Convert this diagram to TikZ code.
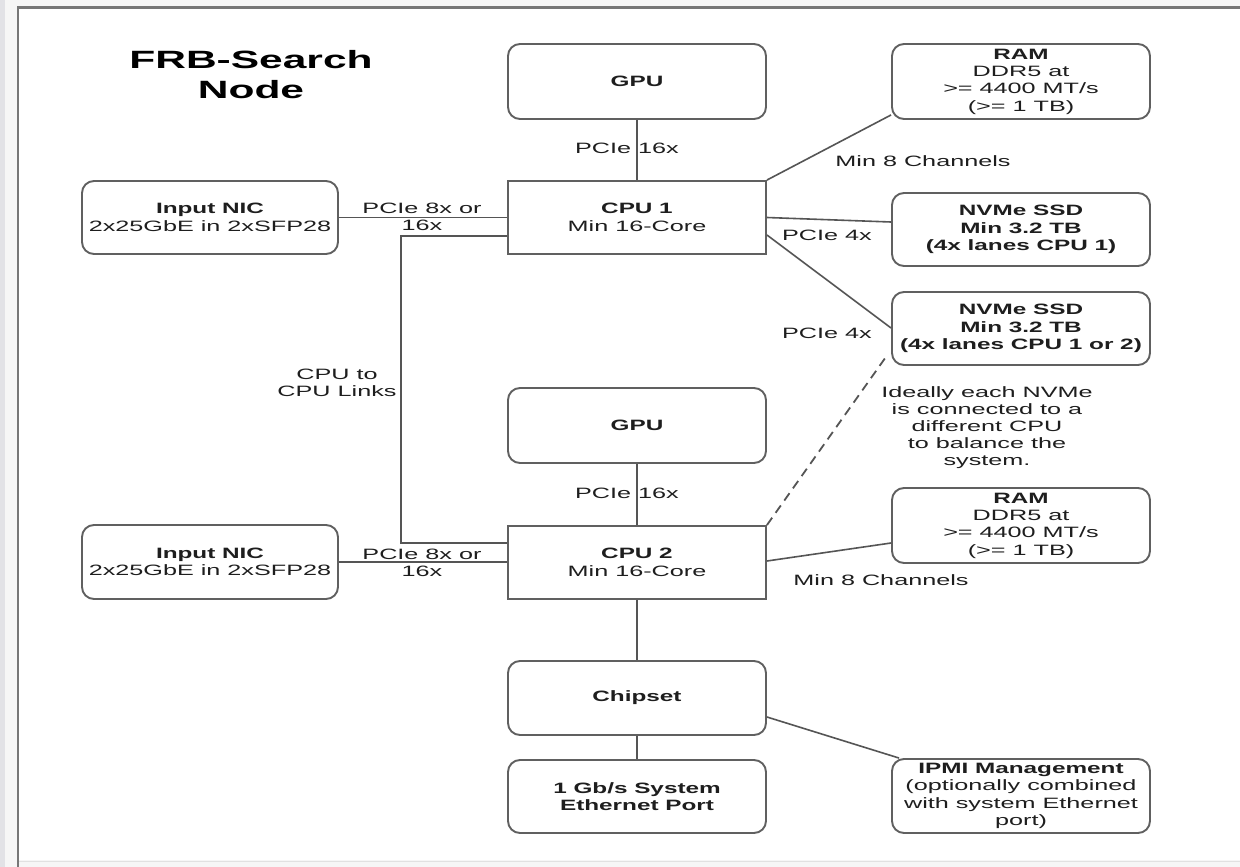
\documentclass[tikz,border=0pt]{standalone}
\usepackage{fontspec}
\setmainfont{Liberation Sans}[FakeStretch=1.68, BoldFeatures={FakeStretch=1.62}]
\newfontfamily\titlefont{Liberation Sans Bold}[FakeStretch=1.7]
\usetikzlibrary{calc}
\definecolor{linec}{HTML}{555555}
\definecolor{boxc}{HTML}{606060}
\definecolor{txtc}{HTML}{1E1E1E}
\definecolor{framec}{HTML}{777777}
\definecolor{bgc}{HTML}{F6F6F6}
\definecolor{stripc}{HTML}{E2E2E6}
\definecolor{botc}{HTML}{E1E1E1}
\tikzset{
  box/.style={draw=boxc, line width=1.9pt, rounded corners=12pt, minimum width=258pt, minimum height=74pt, inner sep=0pt, align=center, text=txtc, font=\fontsize{15}{17.4}\selectfont},
  sqbox/.style={box, rounded corners=0pt},
  conn/.style={draw=linec, line width=1.9pt},
  lbl/.style={text=txtc, inner sep=0pt, align=center, font=\fontsize{15}{17.4}\selectfont},
}
\begin{document}
\begin{tikzpicture}[x=1pt, y=-1pt]
\useasboundingbox (0,0) rectangle (1240,867);
% background and frame
\fill[bgc] (0,0) rectangle (1240,867);
\fill[stripc] (0,0) rectangle (5,867);
\fill[white] (18,8) rectangle (1240,860);
\draw[botc, line width=1pt] (18,861) -- (1240,861);
\draw[framec, line width=2.5pt] (18,867) -- (18,7.5) -- (1240,7.5);

% title
\node[lbl, font=\fontsize{25}{30}\selectfont\titlefont, text=black] (title) at (251,75) {FRB-Search\\Node};

% boxes
\node[box, minimum height=75pt] (gpuA) at (637,81.5) {\textbf{GPU}};
\node[sqbox, minimum height=73pt] (cpuA) at (637,217.5) {\textbf{CPU 1}\\Min 16-Core};
\node[box, minimum width=256pt, minimum height=73pt] (nicA) at (210,217.5) {\textbf{Input NIC}\\2x25GbE in 2xSFP28};
\node[box, minimum height=75pt] (ramA) at (1021,81.5) {\textbf{RAM}\\DDR5 at\\>= 4400 MT/s\\(>= 1 TB)};
\node[box, minimum height=73pt] (ssdA) at (1021,229.5) {\textbf{NVMe SSD}\\\textbf{Min 3.2 TB}\\\textbf{(4x lanes CPU 1)}};
\node[box, minimum height=73pt] (ssdB) at (1021,328.5) {\textbf{NVMe SSD}\\\textbf{Min 3.2 TB}\\\textbf{(4x lanes CPU 1 or 2)}};
\node[box, minimum height=75pt] (gpuB) at (637,425.5) {\textbf{GPU}};
\node[sqbox, minimum height=73pt] (cpuB) at (637,562.5) {\textbf{CPU 2}\\Min 16-Core};
\node[box, minimum width=256pt, minimum height=74pt] (nicB) at (210,562) {\textbf{Input NIC}\\2x25GbE in 2xSFP28};
\node[box, minimum height=75pt] (ramB) at (1021,525.5) {\textbf{RAM}\\DDR5 at\\>= 4400 MT/s\\(>= 1 TB)};
\node[box, minimum height=74pt] (chip) at (637,698) {\textbf{Chipset}};
\node[box, minimum height=73pt] (eth) at (637,796.5) {\textbf{1 Gb/s System}\\\textbf{Ethernet Port}};
\node[box, minimum height=74pt] (ipmi) at (1021,796) {\textbf{IPMI Management}\\(optionally combined\\with system Ethernet\\port)};

% connectors
\draw[conn] (gpuA) -- (cpuA);
\draw[conn] (nicA.east) -- (nicA.east -| cpuA.west);
\draw[conn] ([yshift=-18.5pt]cpuA.west) -| ([xshift=-106pt,yshift=19.5pt]cpuB.west) -- ([yshift=19.5pt]cpuB.west);
\draw[conn] (nicB.east) -- (nicB.east -| cpuB.west);
\draw[conn, line width=1.6pt] (cpuA.north east) -- ([yshift=5pt]ramA.south west);
\draw[conn, line width=1.6pt] (cpuA.east) -- ([yshift=7.5pt]ssdA.west);
\draw[conn, line width=1.6pt] ([yshift=-17.5pt]cpuA.east) -- ([yshift=0.5pt]ssdB.west);
\draw[conn, line width=1.8pt, dash pattern=on 9pt off 6pt] (cpuB.north east) -- ([xshift=-3pt,yshift=12pt]ssdB.south west);
\draw[conn, line width=1.6pt] ([yshift=1.5pt]cpuB.east) -- ([yshift=-17.5pt]ramB.west);
\draw[conn] (gpuB) -- (cpuB);
\draw[conn] (cpuB) -- (chip);
\draw[conn] (chip) -- (eth);
\draw[conn, line width=1.6pt] ([yshift=-19pt]chip.east) -- ([xshift=8pt]ipmi.north west);

% labels
\node[lbl] (l16a) at (627,148) {PCIe 16x};
\node[lbl] (l16b) at (627,493) {PCIe 16x};
\node[lbl] (l8a) at (422,217) {PCIe 8x or\\16x};
\node[lbl] (l8b) at (422,563) {PCIe 8x or\\16x};
\node[lbl] (lcpu) at (337,383) {CPU to\\CPU Links};
\node[lbl] (lch1) at (923,161) {Min 8 Channels};
\node[lbl] (lch2) at (881,580) {Min 8 Channels};
\node[lbl] (lp4a) at (827,235) {PCIe 4x};
\node[lbl] (lp4b) at (827,333) {PCIe 4x};
\node[lbl, font=\fontsize{15}{17}\selectfont] (note) at (987,428) {Ideally each NVMe\\is connected to a\\different CPU\\to balance the\\system.};
\end{tikzpicture}
\end{document}
